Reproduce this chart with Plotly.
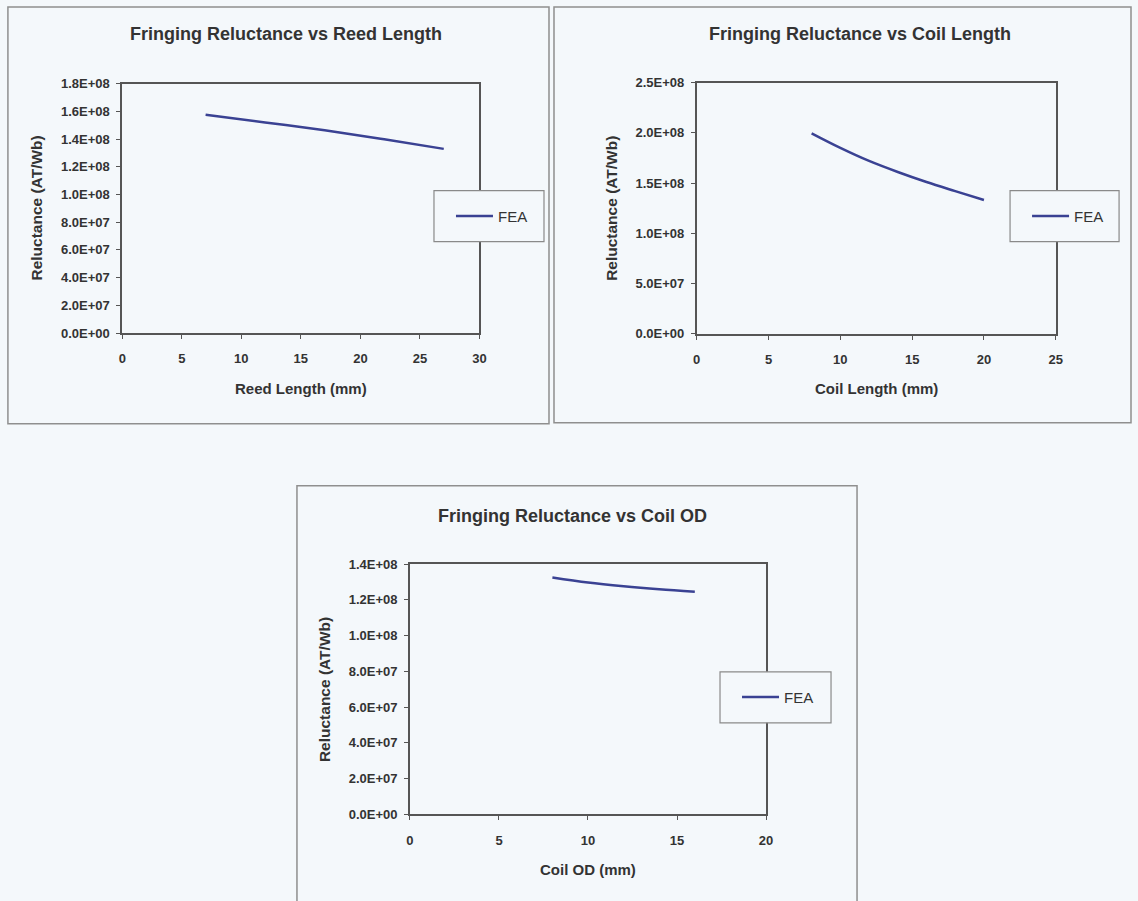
import plotly.graph_objects as go

# ---------------- data ----------------
reed_length_mm = [7, 12, 17, 22, 27]
reed_reluctance = [1.576e8, 1.520e8, 1.463e8, 1.398e8, 1.329e8]

coil_length_mm = [8, 10, 12, 14, 16, 18, 20]
coil_length_reluctance = [1.995e8, 1.850e8, 1.720e8, 1.610e8, 1.510e8, 1.420e8, 1.332e8]

coil_od_mm = [8, 10, 12, 14, 16]
coil_od_reluctance = [1.325e8, 1.297e8, 1.276e8, 1.259e8, 1.245e8]

series_name = "FEA"

titles = ["Fringing Reluctance vs Reed Length",
          "Fringing Reluctance vs Coil Length",
          "Fringing Reluctance vs Coil OD"]
x_titles = ["Reed Length (mm)", "Coil Length (mm)", "Coil OD (mm)"]
y_title = "Reluctance (AT/Wb)"

reed_xticks = [0, 5, 10, 15, 20, 25, 30]
reed_yticks = [0, 2e7, 4e7, 6e7, 8e7, 1e8, 1.2e8, 1.4e8, 1.6e8, 1.8e8]
reed_yticklabels = ["0.0E+00", "2.0E+07", "4.0E+07", "6.0E+07", "8.0E+07",
                    "1.0E+08", "1.2E+08", "1.4E+08", "1.6E+08", "1.8E+08"]

coil_len_xticks = [0, 5, 10, 15, 20, 25]
coil_len_yticks = [0, 5e7, 1e8, 1.5e8, 2e8, 2.5e8]
coil_len_yticklabels = ["0.0E+00", "5.0E+07", "1.0E+08", "1.5E+08", "2.0E+08", "2.5E+08"]

coil_od_xticks = [0, 5, 10, 15, 20]
coil_od_yticks = [0, 2e7, 4e7, 6e7, 8e7, 1e8, 1.2e8, 1.4e8]
coil_od_yticklabels = ["0.0E+00", "2.0E+07", "4.0E+07", "6.0E+07", "8.0E+07",
                       "1.0E+08", "1.2E+08", "1.4E+08"]

# ---------------- layout helpers ----------------
W, H = 1138, 901
# small correction so that the captured picture lands on the reference pixels
SX, OX = 0.9902, 4.08
SY, OY = 0.983, 6.4
def fx(px):
    v = ((px - OX) / SX) / W
    return min(max(v, 0.0), 1.0)
def fy(py):
    v = 1 - ((py - OY) / SY) / H
    return min(max(v, -0.02), 1.0)

BG = "#f4f8fb"
LINE = "#3a4293"
AXC = "#555555"
TXT = "#333333"
FONT = "Liberation Sans"

# plot area pixel boxes: (left, top, right, bottom)
plots = [(122.3, 83.0, 479.5, 332.3),
         (696.7, 82.0, 1055.7, 333.0),
         (410.0, 563.3, 766.0, 813.3)]
outer = [(8, 3, 549, 423), (554, 3, 1133, 422), (297, 485, 857, 910)]
legend_boxes = [(434, 190, 544, 241), (1010, 190, 1119, 241), (720, 671, 831, 722)]
title_pos = [(286, 33), (860, 33), (573, 515)]

xs = [reed_length_mm, coil_length_mm, coil_od_mm]
ys = [reed_reluctance, coil_length_reluctance, coil_od_reluctance]
xticks = [reed_xticks, coil_len_xticks, coil_od_xticks]
yticks = [reed_yticks, coil_len_yticks, coil_od_yticks]
yticklabels = [reed_yticklabels, coil_len_yticklabels, coil_od_yticklabels]
legend_ids = ["legend", "legend2", "legend3"]

fig = go.Figure()
layout = dict(
    width=W, height=H,
    margin=dict(l=0, r=0, t=0, b=0),
    paper_bgcolor=BG, plot_bgcolor=BG,
    font=dict(family=FONT, color=TXT),
    shapes=[], annotations=[],
)

for i in range(3):
    xa = "x" if i == 0 else f"x{i+1}"
    ya = "y" if i == 0 else f"y{i+1}"
    fig.add_trace(go.Scatter(
        x=xs[i], y=ys[i], mode="lines", name=series_name,
        line=dict(color=LINE, width=2.5, shape="spline"),
        xaxis=xa, yaxis=ya, legend=legend_ids[i], showlegend=True,
    ))
    l, t, r, b = plots[i]
    axis_common = dict(showgrid=False, zeroline=False, showline=True, mirror=True,
                       linecolor=AXC, linewidth=1.6, ticks="outside", ticklen=4,
                       tickcolor=AXC, tickwidth=1.2,
                       tickfont=dict(family=FONT, size=13, color=TXT, weight="bold"))
    xkey = "xaxis" if i == 0 else f"xaxis{i+1}"
    ykey = "yaxis" if i == 0 else f"yaxis{i+1}"
    layout[xkey] = dict(axis_common, domain=[fx(l), fx(r)], anchor=ya,
                        range=[xticks[i][0], xticks[i][-1]],
                        tickvals=xticks[i], ticklabelstandoff=9)
    layout[ykey] = dict(axis_common, domain=[fy(b), fy(t)], anchor=xa,
                        range=[yticks[i][0], yticks[i][-1]],
                        tickvals=yticks[i], ticktext=yticklabels[i],
                        ticklabelstandoff=4)
    # outer chart frame
    ol, ot, orr, ob = outer[i]
    layout["shapes"].append(dict(type="rect", xref="paper", yref="paper",
                                 x0=fx(ol), x1=fx(orr), y0=fy(ob), y1=fy(ot),
                                 line=dict(color="#8f8f8f", width=1.5),
                                 fillcolor="rgba(0,0,0,0)", layer="below"))
    # legend frame
    ll, lt, lr, lb = legend_boxes[i]
    layout["shapes"].append(dict(type="rect", xref="paper", yref="paper",
                                 x0=fx(ll), x1=fx(lr), y0=fy(lb), y1=fy(lt),
                                 line=dict(color="#8a8a8a", width=1.2),
                                 fillcolor=BG, layer="above"))
    legend_def = dict(x=fx(ll + 17), y=fy((lt + lb) / 2), xanchor="left", yanchor="middle",
                      bgcolor="rgba(0,0,0,0)", borderwidth=0, itemwidth=37,
                      font=dict(family=FONT, size=15, color=TXT))
    layout[legend_ids[i]] = legend_def
    # title
    tx, ty = title_pos[i]
    layout["annotations"].append(dict(text=titles[i], xref="paper", yref="paper",
                                      x=fx(tx), y=fy(ty), showarrow=False,
                                      xanchor="center", yanchor="middle",
                                      font=dict(family=FONT, size=18, color=TXT, weight="bold")))
    # x axis title
    layout["annotations"].append(dict(text=x_titles[i], xref="paper", yref="paper",
                                      x=fx((l + r) / 2), y=fy(b + 55), showarrow=False,
                                      xanchor="center", yanchor="middle",
                                      font=dict(family=FONT, size=15, color=TXT, weight="bold")))
    # y axis title
    layout["annotations"].append(dict(text=y_title, xref="paper", yref="paper",
                                      x=fx(l - 86), y=fy((t + b) / 2), showarrow=False,
                                      textangle=-90, xanchor="center", yanchor="middle",
                                      font=dict(family=FONT, size=15.5, color=TXT, weight="bold")))

fig.update_layout(**layout)
fig.write_html("out.html",
               config={"displayModeBar": False},
               post_script="document.body.style.margin='0';document.body.style.overflow='hidden';")
